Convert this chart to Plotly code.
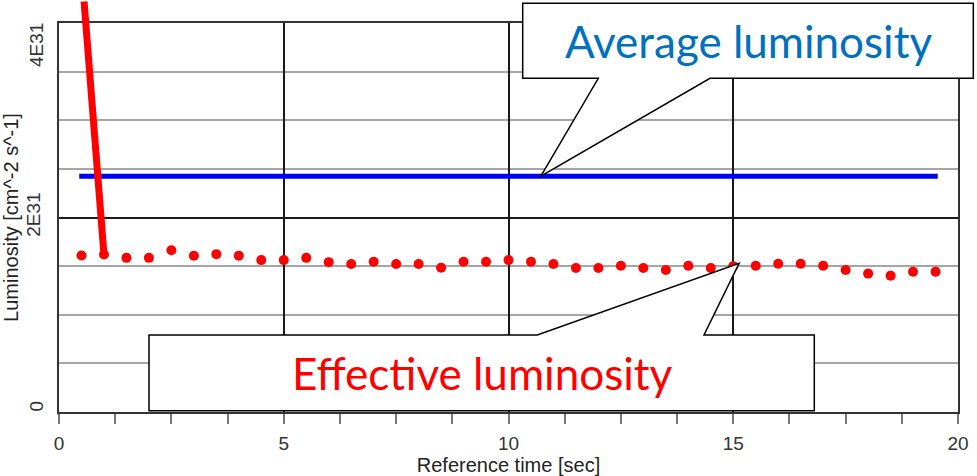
import plotly.graph_objects as go

# ---------------- data ----------------
time_s = [0.5, 1.0, 1.5, 2.0, 2.5, 3.0, 3.5, 4.0, 4.5, 5.0,
          5.5, 6.0, 6.5, 7.0, 7.5, 8.0, 8.5, 9.0, 9.5, 10.0,
          10.5, 11.0, 11.5, 12.0, 12.5, 13.0, 13.5, 14.0, 14.5, 15.0,
          15.5, 16.0, 16.5, 17.0, 17.5, 18.0, 18.5, 19.0, 19.5]
eff_lumi = [1.61e31, 1.62e31, 1.585e31, 1.585e31, 1.664e31, 1.606e31, 1.623e31, 1.606e31, 1.562e31, 1.562e31,
            1.585e31, 1.541e31, 1.521e31, 1.545e31, 1.521e31, 1.521e31, 1.484e31, 1.545e31, 1.545e31, 1.562e31,
            1.545e31, 1.521e31, 1.48e31, 1.48e31, 1.504e31, 1.48e31, 1.46e31, 1.504e31, 1.48e31, 1.50e31,
            1.504e31, 1.525e31, 1.525e31, 1.504e31, 1.46e31, 1.423e31, 1.402e31, 1.443e31, 1.443e31]
avg_x = [0.45, 19.55]
avg_y = [2.425e31, 2.425e31]

x_ticks = [0, 5, 10, 15, 20]
y_ticks = [0, 2e31, 4e31]
y_ticktext = ["0", "2E31", "4E31"]

# ---------------- layout geometry ----------------
W, H = 977, 476
ML, MR, MT, MB = 59, 19, 23, 64
PW, PH = W - ML - MR, H - MT - MB
X_RANGE = [0, 20]
Y_RANGE = [0, 4e31]


def px(xp, yp):
    """pixel -> paper coords"""
    return (xp - ML) / PW, (H - MB - yp) / PH


def data_to_px(x, y):
    return (ML + (x - X_RANGE[0]) / (X_RANGE[1] - X_RANGE[0]) * PW,
            H - MB - (y - Y_RANGE[0]) / (Y_RANGE[1] - Y_RANGE[0]) * PH)


def path(points):
    s = ""
    for i, (a, b) in enumerate(points):
        xa, ya = px(a, b)
        s += ("M" if i == 0 else "L") + f"{xa:.5f},{ya:.5f} "
    return s + "Z"


fig = go.Figure()

fig.add_trace(go.Scatter(x=avg_x, y=avg_y, mode="lines",
                         line=dict(color="#0000FF", width=5), name="Average", showlegend=False))
fig.add_trace(go.Scatter(x=time_s, y=eff_lumi, mode="markers",
                         marker=dict(color="#FF0000", size=10), name="Effective", showlegend=False))

FAMILY = "Liberation Sans, Arial, sans-serif"
axis_font = dict(family=FAMILY, size=19, color="#333333")

fig.update_xaxes(range=X_RANGE, tickvals=x_ticks, ticks="outside", ticklen=10, tickcolor="#777777",
                 tickwidth=1.5, showgrid=True, gridcolor="#1a1a1a", gridwidth=1.5,
                 showline=True, linecolor="#333333", linewidth=2, mirror=True, zeroline=False,
                 tickfont=axis_font, ticklabelstandoff=3,
                 minor=dict(dtick=1.25, tick0=0, ticks="outside", ticklen=10, tickcolor="#777777",
                            tickwidth=1.5, showgrid=False),
                 title=dict(text="Reference time [sec]", font=dict(family=FAMILY, size=20,
                                                                  color="#222222"), standoff=5))

# axis tick label for the middle value; the end labels are kept inside the axis span (as in the original)
fig.update_yaxes(range=Y_RANGE, tickvals=y_ticks[1:2], ticktext=y_ticktext[1:2], ticks="", tickangle=-90,
                 showgrid=True, gridcolor="#1a1a1a", gridwidth=1.5,
                 showline=True, linecolor="#333333", linewidth=2, mirror=True, zeroline=False,
                 tickfont=axis_font, ticklabelstandoff=9,
                 minor=dict(dtick=0.5e31, tick0=0, showgrid=True, gridcolor="#a6a6a6", gridwidth=2, ticks=""),
                 title=dict(text="Luminosity [cm^-2 s^-1]", font=dict(family=FAMILY, size=20,
                                                                     color="#222222"), standoff=4))

lbl_x = px(36, 0)[0]
fig.add_annotation(x=lbl_x, y=y_ticks[0], xref="paper", yref="y", text=y_ticktext[0], textangle=-90,
                   showarrow=False, xanchor="center", yanchor="bottom", font=axis_font,
                   borderpad=0, yshift=-1)
fig.add_annotation(x=lbl_x, y=y_ticks[2], xref="paper", yref="y", text=y_ticktext[2], textangle=-90,
                   showarrow=False, xanchor="center", yanchor="top", font=axis_font,
                   borderpad=0, yshift=1)

# callouts
avg_tip = data_to_px(10.72, avg_y[0])
eff_tip = data_to_px(15.13, 1.528e31)
avg_poly = [(522.7, 3.3), (973.3, 3.3), (973.3, 78.3), (710, 78.3), avg_tip, (598.3, 78.3), (522.7, 78.3)]
eff_poly = [(149, 335), (537.3, 335), eff_tip, (704, 335), (814.3, 335), (814.3, 410.7), (149, 410.7)]
for poly in (avg_poly, eff_poly):
    fig.add_shape(type="path", path=path(poly), xref="paper", yref="paper",
                  fillcolor="white", line=dict(color="black", width=1.5), layer="above")

callout_font = "Lato, Open Sans, sans-serif"
ax_, ay_ = px(748, 41)
fig.add_annotation(x=ax_, y=ay_, xref="paper", yref="paper", text="Average luminosity", showarrow=False,
                   font=dict(family=callout_font, size=44, color="#0070C0"), xanchor="center", yanchor="middle")
ex_, ey_ = px(482, 373)
fig.add_annotation(x=ex_, y=ey_, xref="paper", yref="paper", text="Effective luminosity", showarrow=False,
                   font=dict(family=callout_font, size=44, color="#FF0000"), xanchor="center", yanchor="middle")

# red pointer line to the first points
fig.add_annotation(x=time_s[1], y=eff_lumi[1], xref="x", yref="y", text="", showarrow=True,
                   ax=-20, ay=-265, arrowhead=0, arrowwidth=7, arrowcolor="#FF0000", standoff=0)

fig.update_layout(width=W, height=H, margin=dict(l=ML, r=MR, t=MT, b=MB, autoexpand=False),
                  plot_bgcolor="white", paper_bgcolor="white", showlegend=False)

fig.write_html("out.html")
